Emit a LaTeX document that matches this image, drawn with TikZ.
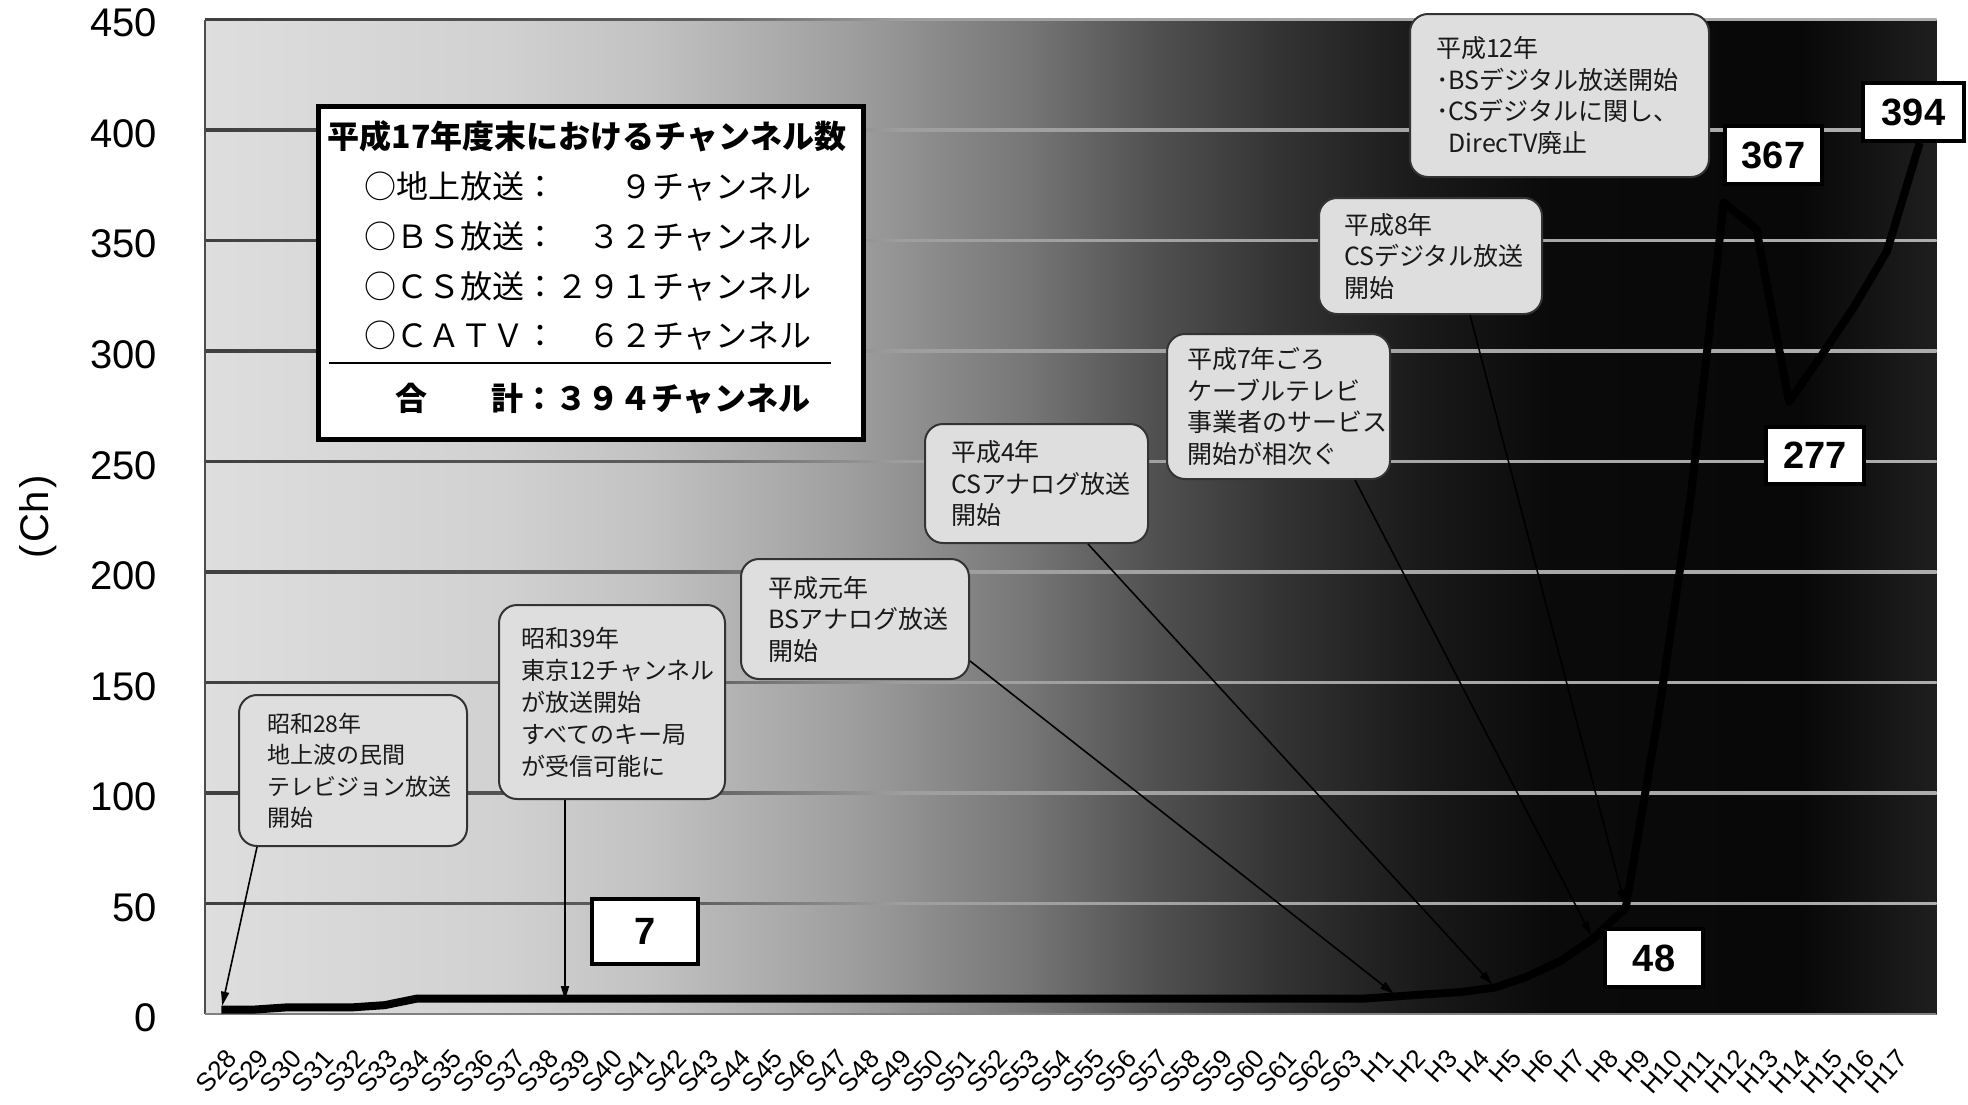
\documentclass[tikz,border=0pt]{standalone}
\usepackage{fontspec}
\setmainfont{Liberation Sans}
\newfontfamily\jp{Noto Sans CJK JP}
\usetikzlibrary{arrows.meta}
\begin{document}
\begin{tikzpicture}[x=1bp,y=-1bp,
 callout/.style={draw=black!80,line width=2bp,fill=black!13,rounded corners=18bp,anchor=north west,align=left,inner ysep=0bp,text=black!90},
 cfont/.style={font=\jp\fontsize{#1bp}{31.5bp}\selectfont},
 valbox/.style={draw=black,line width=4bp,fill=white,inner sep=0bp,font=\bfseries\fontsize{38bp}{38bp}\selectfont},
 conn/.style={line width=1.6bp,shorten >=4bp,-{Triangle[length=14bp,width=8bp]}},
 xlab/.style={rotate=48,anchor=east,inner sep=0bp,font=\fontsize{26bp}{26bp}\selectfont},
 ylab/.style={anchor=east,inner sep=0bp,font=\fontsize{40bp}{40bp}\selectfont},
 sumrow/.style={anchor=west,inner sep=0bp,font=\jp\fontsize{32bp}{32bp}\selectfont},
 sumbold/.style={inner sep=0bp,font=\jp\bfseries\fontsize{32bp}{32bp}\selectfont}
]
\useasboundingbox (0,0) rectangle (1968,1104);
\fill[white] (0,0) rectangle (1968,1104);

% plot background (light grey to black)
\foreach \xa/\xb/\ca/\cb in {205/500/87/82,500/650/82/76,650/850/76/62,850/1030/62/46,1030/1150/46/32,1150/1280/32/20,1280/1420/20/10,1420/1550/10/4,1550/1800/4/3,1800/1936/3/12}
  \shade[left color=white!\ca!black,right color=white!\cb!black] (\xa,19.5) rectangle ({\xb+0.6},1014);

% grid lines
\foreach \k in {1,...,9}{
  \pgfmathsetmacro\gy{1014-110.5*\k}
  \foreach \xa/\xb/\ca/\cb in {205/700/25/38,700/900/38/62,900/1936/62/68}
    \shade[left color=white!\ca!black,right color=white!\cb!black] (\xa,\gy-1.2) rectangle ({\xb+0.6},\gy+1.2);
}
\draw[black!70,line width=2bp] (205,19.5) -- (205,1014);
\draw[black!50,line width=1.5bp] (205,1014) -- (1936,1014);

% data
\foreach \v [count=\i from 0] in {2,2,3,3,3,4,7,7,7,7,7,7,7,7,7,7,7,7,7,7,7,7,7,7,7,7,7,7,7,7,7,7,7,7,7,7,8,9,10,12,17,24,34,48,135,235,367,355,277,298,320,345,394}
  \coordinate (p\i) at ({205+32.66*(\i+0.5)},{1014-2.2111*\v});
\draw[line width=8bp,line join=round] (p0) \foreach \i in {1,...,52}{ -- (p\i)};

% callouts
\node[callout,cfont=23,inner xsep=28bp,text width=172bp,minimum height=151bp] (a) at (238,694) {昭和28年\\地上波の民間\\テレビジョン放送\\開始};
\node[callout,font=\jp\fontsize{24bp}{32bp}\selectfont,inner xsep=22bp,text width=182bp,minimum height=194bp] (b) at (498,604) {昭和39年\\東京12チャンネル\\が放送開始\\すべてのキー局\\が受信可能に};
\node[callout,cfont=25,inner xsep=27bp,text width=174bp,minimum height=120bp] (c) at (740,558) {平成元年\\BSアナログ放送\\開始};
\node[callout,cfont=25,inner xsep=26bp,text width=171bp,minimum height=119bp] (d) at (924,423) {平成4年\\CSアナログ放送\\開始};
\node[callout,cfont=25,inner xsep=20bp,text width=183bp,minimum height=145bp] (e) at (1166,333) {平成7年ごろ\\ケーブルテレビ\\事業者のサービス\\開始が相次ぐ};
\node[callout,cfont=25,inner xsep=25bp,text width=173bp,minimum height=116bp] (f) at (1318,197) {平成8年\\CSデジタル放送\\開始};
\node[callout,cfont=25,inner xsep=26bp,text width=247bp,minimum height=163bp] (g) at (1409,13) {平成12年\\･BSデジタル放送開始\\･CSデジタルに関し、\\\phantom{･}DirecTV廃止};

% connectors
\coordinate (bt) at (565,1000);
\draw[conn] ([xshift=19bp]a.south west) -- (p0);
\draw[conn,shorten >=0bp] (b.south west -| bt) -- (bt);
\draw[conn] ([yshift=19bp]c.south east) -- (p36);
\draw[conn] ([xshift=164bp]d.south west) -- (p39);
\draw[conn] ([xshift=189bp]e.south west) -- (p42);
\draw[conn] ([xshift=152bp]f.south west) -- (p43);

% value boxes
\node[valbox,minimum width=106bp,minimum height=65bp] (v7) at (645,931.5) {7};
\node[valbox,minimum width=98bp,minimum height=58bp] (v48) at (1654,958) {48};
\node[valbox,minimum width=98bp,minimum height=57bp] (v277) at (1815,455.5) {277};
\node[valbox,minimum width=97bp,minimum height=58bp] (v367) at (1773.5,155) {367};
\node[valbox,minimum width=101bp,minimum height=58bp] (v394) at (1913.5,112) {394};

% summary box
\node[draw=black,line width=5bp,fill=white,anchor=north west,minimum width=545bp,minimum height=333bp,inner sep=0bp] (sum) at (316,104) {};
\node[sumbold] (st) at (587,136) {平成17年度末におけるチャンネル数};
\node[sumrow] (r1) at (364,186) {○地上放送：　　９チャンネル};
\node[sumrow] (r2) at (364,236) {○ＢＳ放送：　３２チャンネル};
\node[sumrow] (r3) at (364,286) {○ＣＳ放送：２９１チャンネル};
\node[sumrow] (r4) at (364,336) {○ＣＡＴＶ：　６２チャンネル};
\draw[line width=2.5bp] (329,363) -- (831,363);
\node[sumbold,anchor=west] (tot) at (395,399) {合　　計：３９４チャンネル};

% axes labels
\foreach \v in {0,50,...,450}
  \node[ylab] (y\v) at (157,{1018-2.2111*\v}) {\v};
\node[rotate=90,inner sep=0bp,font=\fontsize{40bp}{40bp}\selectfont] (ch) at (38,517) {(\kern3bp Ch\kern3bp)};
\foreach \i in {0,...,52}{
  \ifnum\i<36 \pgfmathtruncatemacro\lnum{\i+28}\def\lpre{S}\else\pgfmathtruncatemacro\lnum{\i-35}\def\lpre{H}\fi
  \node[xlab] (x\i) at ({232+32.12*\i},1054) {\lpre\lnum};
}
\end{tikzpicture}
\end{document}
